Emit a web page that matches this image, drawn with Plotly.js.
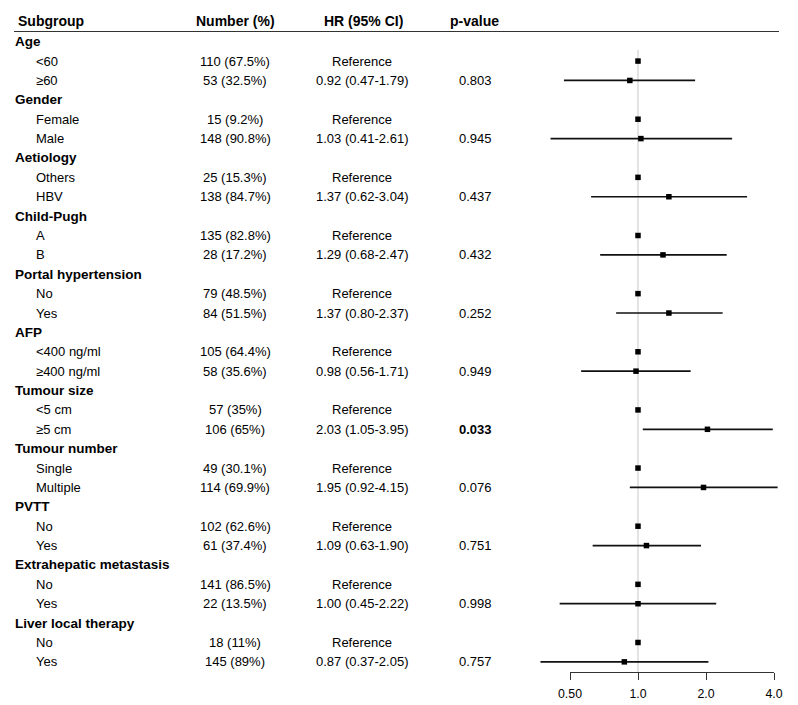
<!DOCTYPE html>
<html>
<head>
<meta charset="utf-8">
<script src="https://cdn.plot.ly/plotly-3.0.1.min.js"></script>
<style>html,body{margin:0;padding:0;background:#fff;}#chart{width:798px;height:705px;}</style>
</head>
<body>
<div id="chart"></div>
<script>
// ---- data ----
const groups = ['Age','Gender','Aetiology','Child-Pugh','Portal hypertension','AFP','Tumour size','Tumour number','PVTT','Extrahepatic metastasis','Liver local therapy'];
const refLevel = ['<60','Female','Others','A','No','<400 ng/ml','<5 cm','Single','No','No','No'];
const cmpLevel = ['≥60','Male','HBV','B','Yes','≥400 ng/ml','≥5 cm','Multiple','Yes','Yes','Yes'];
const refN = [110,15,25,135,79,105,57,49,102,141,18];
const refPct = ['67.5%','9.2%','15.3%','82.8%','48.5%','64.4%','35%','30.1%','62.6%','86.5%','11%'];
const cmpN = [53,148,138,28,84,58,106,114,61,22,145];
const cmpPct = ['32.5%','90.8%','84.7%','17.2%','51.5%','35.6%','65%','69.9%','37.4%','13.5%','89%'];
const hr = [0.92,1.03,1.37,1.29,1.37,0.98,2.03,1.95,1.09,1.00,0.87];
const lo = [0.47,0.41,0.62,0.68,0.80,0.56,1.05,0.92,0.63,0.45,0.37];
const hi = [1.79,2.61,3.04,2.47,2.37,1.71,3.95,4.15,1.90,2.22,2.05];
const pval = ['0.803','0.945','0.437','0.432','0.252','0.949','0.033','0.076','0.751','0.998','0.757'];
const refHR = 1;
const tickVals = [0.5,1,2,4];
const tickText = ['0.50','1.0','2.0','4.0'];
const headers = ['Subgroup','Number (%)','HR (95% CI)','p-value'];

// ---- layout helpers ----
const W = 798, H = 705;
const row0 = 41.7, rowH = 19.38;
const px2row = p => (p - row0) / rowH;
const FONT = 'Liberation Sans, Arial, sans-serif';
const xPx = {group: 13, level: 34, num: 235, hr: 362, p: 475};
// log axis scale: x=1 at 638px, 68px per doubling
const pxPerDec = 68 / Math.log10(2);
const xRange = [(0 - 638) / pxPerDec, (W - 638) / pxPerDec];

const ann = [];
const ciX = [], ciY = [], mX = [], mY = [];
function txt(text, xp, yrow, anchor, bold, size) {
  ann.push({text: bold ? '<b>' + text + '</b>' : text, xref: 'paper', x: xp / W, xanchor: anchor,
    yref: 'y', y: yrow, yanchor: 'middle', showarrow: false,
    font: {family: FONT, size: size || 13, color: '#000'}});
}
groups.forEach((g, k) => {
  const r = k * 3;
  txt(g, xPx.group, r, 'left', true, 13.5);
  // reference row
  txt(refLevel[k], xPx.level, r + 1, 'left', false);
  txt(refN[k] + ' (' + refPct[k] + ')', xPx.num, r + 1, 'center', false);
  txt('Reference', xPx.hr, r + 1, 'center', false);
  mX.push(refHR); mY.push(r + 1);
  // comparison row
  txt(cmpLevel[k], xPx.level, r + 2, 'left', false);
  txt(cmpN[k] + ' (' + cmpPct[k] + ')', xPx.num, r + 2, 'center', false);
  txt(hr[k].toFixed(2) + ' (' + lo[k].toFixed(2) + '-' + hi[k].toFixed(2) + ')', xPx.hr, r + 2, 'center', false);
  txt(pval[k], xPx.p, r + 2, 'center', parseFloat(pval[k]) < 0.05);
  ciX.push(lo[k], hi[k], null); ciY.push(r + 2, r + 2, null);
  mX.push(hr[k]); mY.push(r + 2);
});
// headers
const hdrX = [16, 235, 363, 474], hdrA = ['left','center','center','center'];
headers.forEach((h, i) => ann.push({text: '<b>' + h + '</b>', xref: 'paper', x: hdrX[i] / W, xanchor: hdrA[i],
  yref: 'paper', y: 1 - 21.5 / H, yanchor: 'middle', showarrow: false,
  font: {family: FONT, size: 14, color: '#000'}}));

const axisY = 672;
const traces = [
  {x: ciX, y: ciY, xaxis: 'x', yaxis: 'y', mode: 'lines', line: {color: '#111', width: 1.7}, hoverinfo: 'skip', showlegend: false},
  {x: mX, y: mY, xaxis: 'x', yaxis: 'y', mode: 'markers', marker: {symbol: 'square', size: 5.5, color: '#000'}, showlegend: false},
  {x: [1], y: [null], xaxis: 'x2', yaxis: 'y', mode: 'markers', showlegend: false, hoverinfo: 'skip'}
];
const layout = {
  width: W, height: H, margin: {l: 0, r: 0, t: 0, b: 0},
  paper_bgcolor: '#fff', plot_bgcolor: 'rgba(0,0,0,0)', showlegend: false,
  font: {family: FONT, color: '#000'},
  xaxis: {type: 'log', range: xRange, domain: [0, 1], visible: false, fixedrange: true},
  xaxis2: {type: 'log', range: [Math.log10(0.5), Math.log10(4)], domain: [570 / W, 774 / W],
    anchor: 'free', position: 1 - axisY / H, showline: true, linecolor: '#333', linewidth: 1,
    ticks: 'outside', ticklen: 7, tickcolor: '#333', tickwidth: 1, showgrid: false, zeroline: false,
    ticklabelstandoff: 3,
    tickvals: tickVals, ticktext: tickText, tickfont: {family: FONT, size: 12.3, color: '#000'}},
  yaxis: {range: [px2row(H), px2row(0)], domain: [0, 1], visible: false, fixedrange: true},
  annotations: ann,
  shapes: [
    {type: 'line', xref: 'paper', yref: 'paper', x0: 14 / W, x1: 779 / W, y0: 1 - 31.5 / H, y1: 1 - 31.5 / H, line: {color: '#333', width: 1}},
    {type: 'line', xref: 'x', yref: 'paper', x0: 1, x1: 1, y0: 1 - 50 / H, y1: 1 - axisY / H, line: {color: '#c8c8c8', width: 1}, layer: 'below'}
  ]
};
Plotly.newPlot('chart', traces, layout, {displayModeBar: false, staticPlot: true});
</script>
</body>
</html>
